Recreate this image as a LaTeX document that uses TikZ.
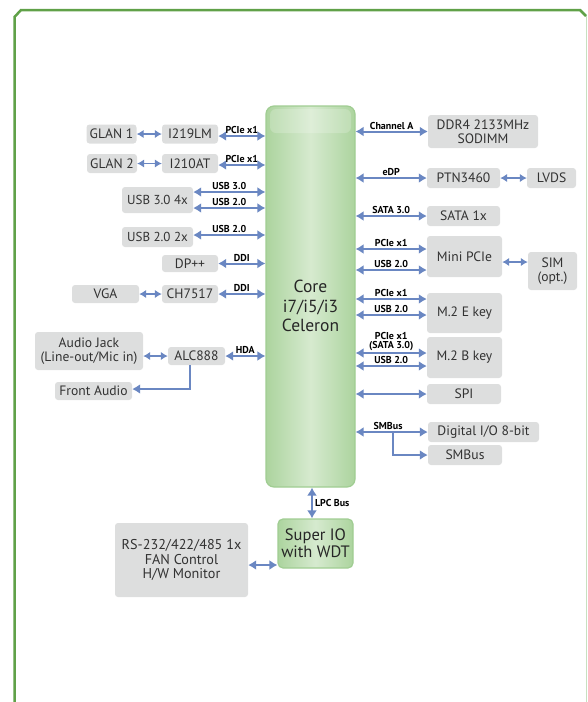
\documentclass[tikz,border=0pt]{standalone}
\usepackage{fontspec}
\setmainfont{PT Sans}
\usetikzlibrary{arrows.meta}
\definecolor{boxgray}{RGB}{221,222,222}
\definecolor{boxtext}{RGB}{50,50,50}
\definecolor{linkblue}{RGB}{106,135,194}
\definecolor{framegreen}{RGB}{96,161,72}
\definecolor{framelight}{RGB}{200,224,192}
\definecolor{chipedge}{RGB}{160,205,146}
\definecolor{chipdark}{RGB}{172,212,158}
\definecolor{chiplight}{RGB}{214,234,207}

\begin{document}
\begin{tikzpicture}[x=1pt,y=1pt,
  box/.style={fill=boxgray,rounded corners=3pt,inner sep=0pt,text=boxtext,align=center,
    font=\fontsize{13.6}{14}\selectfont},
  chip/.style={draw=chipedge,line width=1.2pt,rounded corners=8pt,inner sep=0pt,align=center,
    left color=chipdark,right color=chipdark,middle color=chiplight,text=black!85,
    font=\fontsize{16.5}{17}\selectfont},
  lbl/.style={midway,above,inner sep=1pt,text=black,font=\bfseries\fontsize{10}{9.5}\selectfont,align=center},
  link/.style={draw=linkblue,line width=2pt,{Latex[length=8pt,width=10pt]}-{Latex[length=8pt,width=10pt]}},
  thinlink/.style={draw=linkblue,line width=1.6pt,{Latex[length=7pt,width=8.5pt]}-{Latex[length=7pt,width=8.5pt]}},
  tolink/.style={draw=linkblue,line width=2pt,-{Latex[length=8pt,width=10pt]}}]
  \useasboundingbox (0,0) rectangle (587,-702);
  % frame
  \draw[framegreen,line width=2.5pt] (14.5,-702) -- (14.5,-17) -- (21,-10) -- (580,-10) -- (586,-16);
  \draw[framelight,line width=1pt] (586,-16) -- (586,-702);
  % chips
  \draw (310.5,-296.5)node[chip,minimum width=89pt,minimum height=381pt](cpu){};
  \fill[white,opacity=0.2,rounded corners=6pt] (270,-109) rectangle (351,-133);
  \draw (310.5,-306)node[align=center,font=\fontsize{17.5}{19.5}\selectfont,text=black!85](cpulbl){Core\\i7/i5/i3\\Celeron};
  \draw (315.5,-543.5)node[chip,minimum width=75pt,minimum height=49pt,rounded corners=5pt](sio){Super IO\\with WDT};
  % left side
  \draw (111.5,-134)node[box,minimum width=50pt,minimum height=19pt](glan1){GLAN 1};
  \draw (190,-134)node[box,minimum width=56pt,minimum height=19pt](i219){I219LM};
  \draw (112,-163.5)node[box,minimum width=50pt,minimum height=19pt](glan2){GLAN 2};
  \draw (190,-163.5)node[box,minimum width=56pt,minimum height=19pt](i210){I210AT};
  \draw (157.5,-200)node[box,minimum width=71pt,minimum height=26pt,font=\fontsize{13}{14}\selectfont](usb3){USB 3.0 4x};
  \draw (157.5,-237)node[box,minimum width=71pt,minimum height=20pt,font=\fontsize{13}{14}\selectfont](usb2){USB 2.0 2x};
  \draw (190,-263.5)node[box,minimum width=56pt,minimum height=17pt](dp){DP++};
  \draw (190,-294)node[box,minimum width=56pt,minimum height=18pt](ch7517){CH7517};
  \draw (105.5,-294)node[box,minimum width=67pt,minimum height=18pt](vga){VGA};
  \draw (89,-351)node[box,minimum width=108pt,minimum height=38pt](jack){Audio Jack\\(Line-out/Mic in)};
  \draw (196.5,-356)node[box,minimum width=57pt,minimum height=18pt](alc){ALC888};
  \draw (93.5,-391)node[box,minimum width=77pt,minimum height=18pt](front){Front Audio};
  \draw (181.5,-560)node[box,minimum width=133pt,minimum height=74pt,font=\fontsize{14.2}{14.5}\selectfont](rs){RS-232/422/485 1x\\FAN Control\\H/W Monitor};
  % right side
  \draw (483,-131.5)node[box,minimum width=110pt,minimum height=33pt](ddr){DDR4 2133MHz\\SODIMM};
  \draw (463.5,-178)node[box,minimum width=73pt,minimum height=20pt](ptn){PTN3460};
  \draw (551.5,-178)node[box,minimum width=49pt,minimum height=20pt](lvds){LVDS};
  \draw (463.5,-216)node[box,minimum width=73pt,minimum height=20pt](sata){SATA 1x};
  \draw (464.5,-256.5)node[box,minimum width=75pt,minimum height=41pt](mpcie){Mini PCIe};
  \draw (552.5,-271)node[box,minimum width=49pt,minimum height=38pt](sim){SIM\\(opt.)};
  \draw (464.5,-313)node[box,minimum width=75pt,minimum height=40pt](m2e){M.2 E key};
  \draw (464.5,-357.5)node[box,minimum width=75pt,minimum height=41pt](m2b){M.2 B key};
  \draw (464,-394)node[box,minimum width=74pt,minimum height=20pt](spi){SPI};
  \draw (483.5,-432)node[box,minimum width=111pt,minimum height=20pt](dio){Digital I/O 8-bit};
  \draw (465,-455)node[box,minimum width=74pt,minimum height=20pt](smb){SMBus};
  \coordinate (smbsplit) at (393,-432);
  \coordinate (frontsplit) at (190,-389);
  % links, left
  \draw[thinlink] (glan1) -- (i219);
  \draw[thinlink] (glan2) -- (i210);
  \draw[thinlink] (vga) -- (ch7517);
  \draw[thinlink] (jack.east |- alc) -- (alc);
  \draw[link] ([yshift=-2pt]i219.east) -- ([yshift=-2pt]i219.east -| cpu.west) node[lbl]{PCIe x1};
  \draw[link] ([yshift=-1.5pt]i210.east) -- ([yshift=-1.5pt]i210.east -| cpu.west) node[lbl]{PCIe x1};
  \draw[link] ([yshift=8pt]usb3.east) -- ([yshift=8pt]usb3.east -| cpu.west) node[lbl]{USB 3.0};
  \draw[link] ([yshift=-8pt]usb3.east) -- ([yshift=-8pt]usb3.east -| cpu.west) node[lbl]{USB 2.0};
  \draw[link] ([yshift=2pt]usb2.east) -- ([yshift=2pt]usb2.east -| cpu.west) node[lbl]{USB 2.0};
  \draw[link] (dp) -- (dp -| cpu.west) node[lbl]{DDI};
  \draw[link] (ch7517) -- (ch7517 -| cpu.west) node[lbl]{DDI};
  \draw[link] (alc) -- (alc -| cpu.west) node[lbl]{HDA};
  \draw[tolink] (alc.south -| frontsplit) -- (frontsplit) -- (frontsplit -| front.east);
  % links, right
  \draw[link] (cpu.east |- ddr) -- (ddr) node[lbl]{Channel A};
  \draw[link] (cpu.east |- ptn) -- (ptn) node[lbl]{eDP};
  \draw[thinlink] (ptn) -- (lvds);
  \draw[link] (cpu.east |- sata) -- (sata) node[lbl]{SATA 3.0};
  \draw[link] ([yshift=7.5pt]mpcie.west -| cpu.east) -- ([yshift=7.5pt]mpcie.west) node[lbl]{PCIe x1};
  \draw[link] ([yshift=-13.5pt]mpcie.west -| cpu.east) -- ([yshift=-13.5pt]mpcie.west) node[lbl]{USB 2.0};
  \draw[thinlink] ([yshift=-5.5pt]mpcie.east) -- ([yshift=-5.5pt]mpcie.east -| sim.west);
  \draw[link] ([yshift=14pt]m2e.west -| cpu.east) -- ([yshift=14pt]m2e.west) node[lbl]{PCIe x1};
  \draw[link] ([yshift=-2pt]m2e.west -| cpu.east) -- ([yshift=-2pt]m2e.west) node[lbl]{USB 2.0};
  \draw[link] ([yshift=4.5pt]m2b.west -| cpu.east) -- ([yshift=4.5pt]m2b.west) node[lbl]{PCIe x1\\(SATA 3.0)};
  \draw[link] ([yshift=-8.5pt]m2b.west -| cpu.east) -- ([yshift=-8.5pt]m2b.west) node[lbl]{USB 2.0};
  \draw[link] (cpu.east |- spi) -- (spi);
  \draw[link] (cpu.east |- dio) -- (dio) node[lbl,pos=0.45]{SMBus};
  \draw[tolink] (smbsplit) |- (smb.west);
  % bottom
  \draw[link] ([xshift=-3.5pt]sio.north) -- ([xshift=-3.5pt]sio.north |- cpu.south) node[midway,right,inner sep=2pt,font=\bfseries\fontsize{10}{10}\selectfont]{LPC Bus};
  \draw[link] ([yshift=-5pt]rs.east) -- ([yshift=-5pt]rs.east -| sio.west);
\end{tikzpicture}
\end{document}
